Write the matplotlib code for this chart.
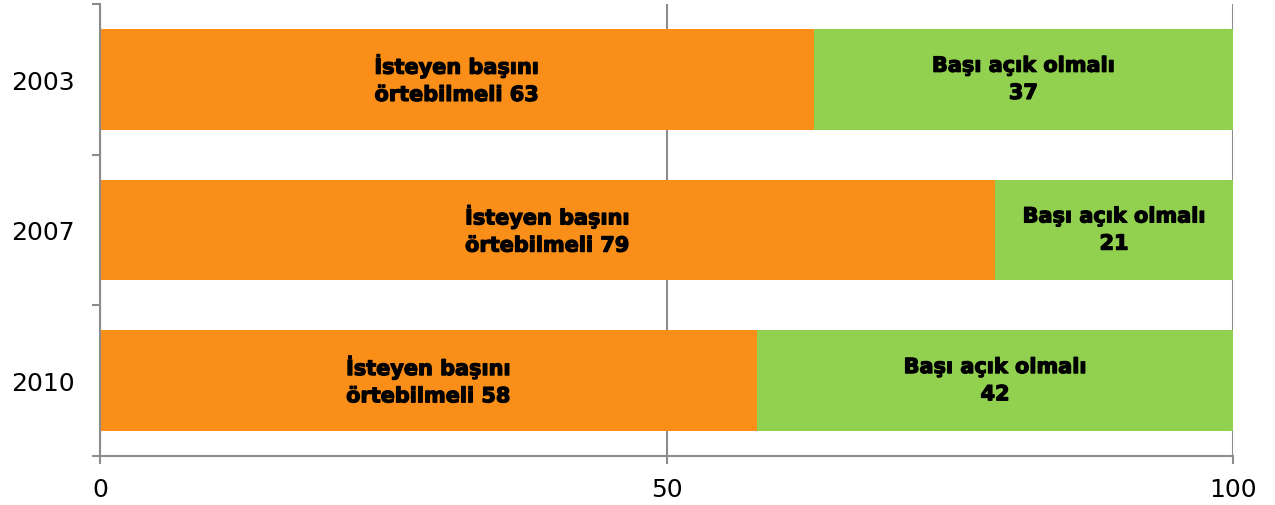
import matplotlib.pyplot as plt
import matplotlib.patheffects as pe
from matplotlib.ticker import FixedLocator

years = ['2003', '2007', '2010']
cover_ok = [63, 79, 58]
must_be_open = [37, 21, 42]
cover_label = 'İsteyen başını\nörtebilmeli'
open_label = 'Başı açık olmalı\n'

orange = '#F98F18'
green = '#92D050'
grid_gray = '#8C8C8C'


def main():
    fig = plt.figure(figsize=(12.75, 5.06), dpi=100)
    ax = fig.add_axes([100 / 1275, 1 - 457 / 506, 1133 / 1275, 452 / 506])

    pos = list(range(len(years)))
    ax.barh(pos, cover_ok, height=0.667, color=orange, zorder=2)
    ax.barh(pos, must_be_open, left=cover_ok, height=0.667, color=green, zorder=2)

    # thin outline to get the heavy look of the original labels
    heavy = [pe.withStroke(linewidth=0.9, foreground='black')]
    for i, (a, b) in enumerate(zip(cover_ok, must_be_open)):
        ax.text(a / 2, i, f'{cover_label} {a}', ha='center', va='center',
                fontsize=15, fontweight='bold', family='DejaVu Sans',
                linespacing=1.45, zorder=3, path_effects=heavy)
        ax.text(a + b / 2, i, f'{open_label}{b}', ha='center', va='center',
                fontsize=15, fontweight='bold', family='DejaVu Sans',
                linespacing=1.45, zorder=3, path_effects=heavy)

    ax.set_xlim(0, 100)
    ax.set_ylim(2.5, -0.5)

    # category boundaries as major ticks, labels on minor ticks
    ax.yaxis.set_major_locator(FixedLocator([-0.5, 0.5, 1.5, 2.5]))
    ax.yaxis.set_major_formatter(plt.NullFormatter())
    ax.yaxis.set_minor_locator(FixedLocator(pos))
    ax.set_yticklabels(years, minor=True)
    ax.tick_params(axis='y', which='major', direction='out', length=6,
                   width=1.5, color=grid_gray)
    ax.tick_params(axis='y', which='minor', length=0, pad=18, labelsize=18)

    ax.set_xticks([0, 50, 100])
    ax.tick_params(axis='x', direction='out', length=6, width=1.5,
                   color=grid_gray, pad=9, labelsize=18)

    ax.grid(axis='x', color=grid_gray, linewidth=1.5, zorder=1)
    for side in ['top', 'right']:
        ax.spines[side].set_visible(False)
    for side in ['left', 'bottom']:
        ax.spines[side].set_color(grid_gray)
        ax.spines[side].set_linewidth(1.5)

    plt.savefig('out.png')
    plt.close()


if __name__ == '__main__':
    main()
